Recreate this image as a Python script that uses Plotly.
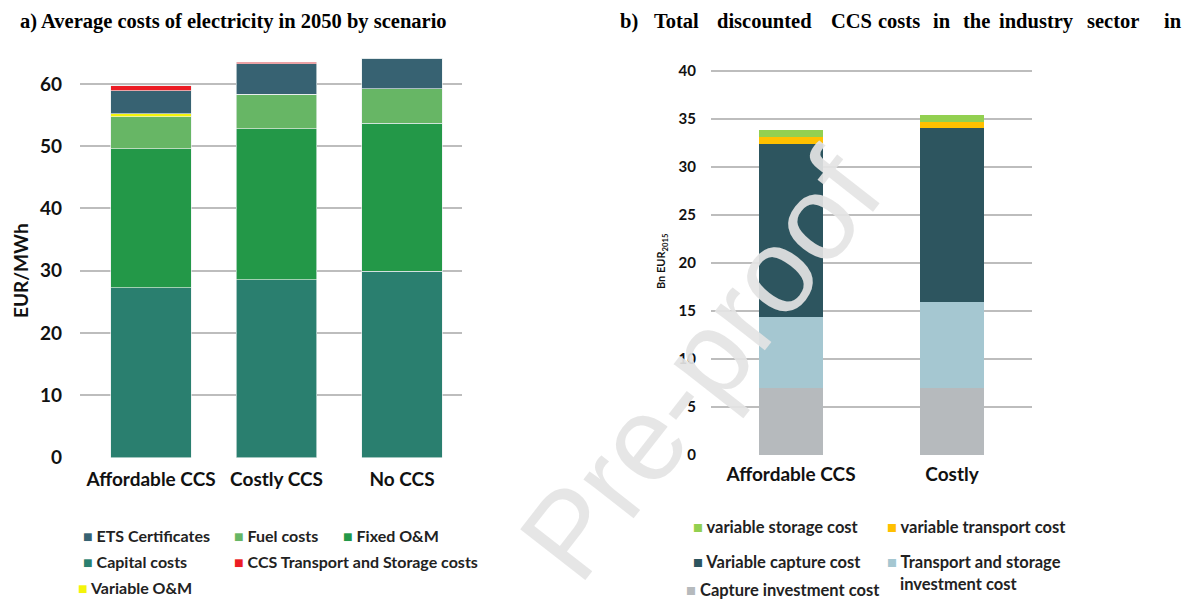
import plotly.graph_objects as go

# ---------------- data ----------------
scen_a = ["Affordable CCS", "Costly CCS", "No CCS"]
capital_costs = [27.3, 28.6, 29.9]
fixed_om = [22.3, 24.2, 23.8]
fuel_costs = [5.15, 5.5, 5.5]
variable_om = [0.45, 0.0, 0.0]
ets_certificates = [3.7, 4.9, 4.9]
ccs_transport_storage = [0.8, 0.3, 0.0]

scen_b = ["Affordable CCS", "Costly"]
capture_investment = [6.95, 6.95]
ts_investment = [7.4, 8.95]
variable_capture = [18.05, 18.1]
variable_transport = [0.7, 0.7]
variable_storage = [0.7, 0.7]

left_ticks = [0, 10, 20, 30, 40, 50, 60]
right_ticks = [0, 5, 10, 15, 20, 25, 30, 35, 40]

# ---------------- styles ----------------
SANS = "Lato, 'Open Sans', sans-serif"
SERIF = "'Liberation Serif', 'Times New Roman', serif"
GRID = "#bdbdbd"
W, H, OFF = 1200, 600, 8  # page body margin offset


def px_x(px):
    return (px - OFF) / W


def px_y(py):
    return 1 - (py - OFF) / H


left_series = [
    ("Capital costs", capital_costs, "#2a7f6f"),
    ("Fixed O&M", fixed_om, "#239848"),
    ("Fuel costs", fuel_costs, "#67b665"),
    ("Variable O&M", variable_om, "#f4f40a"),
    ("ETS Certificates", ets_certificates, "#376272"),
    ("CCS Transport and Storage costs", ccs_transport_storage, "#ec1c24"),
]
right_series = [
    ("Capture investment cost", capture_investment, "#b6babd"),
    ("Transport and storage investment cost", ts_investment, "#a5c7d1"),
    ("Variable capture cost", variable_capture, "#2d555f"),
    ("variable transport cost", variable_transport, "#ffc000"),
    ("variable storage cost", variable_storage, "#92d050"),
]

fig = go.Figure()
for name, vals, col in left_series:
    fig.add_trace(go.Bar(x=scen_a, y=vals, name=name, marker_color=col,
                         marker_line=dict(color="rgba(235,240,240,0.8)", width=0.8),
                         width=0.64, xaxis="x", yaxis="y", showlegend=False))
for name, vals, col in right_series:
    fig.add_trace(go.Bar(x=scen_b, y=vals, name=name, marker_color=col,
                         marker_line=dict(width=0),
                         width=0.4, xaxis="x2", yaxis="y2", showlegend=False))

fig.update_layout(
    barmode="stack",
    width=W, height=H,
    margin=dict(l=0, r=0, t=0, b=0, autoexpand=False),
    paper_bgcolor="white", plot_bgcolor="white",
    font=dict(family=SANS, color="#111"),
    xaxis=dict(domain=[px_x(80), px_x(462)], range=[-0.566, 2.478], automargin=False,
               showgrid=False, showline=False, ticks="", ticklabelstandoff=8,
               tickfont=dict(family=SANS, size=19, weight="bold", color="#111")),
    yaxis=dict(domain=[px_y(457.7), px_y(49.6)], range=[0, 65.5], tickvals=left_ticks,
               automargin=False,
               showgrid=True, gridcolor=GRID, gridwidth=1.5, zeroline=False,
               showline=False, ticks="", ticklabelstandoff=17,
               tickfont=dict(family=SANS, size=19, weight="bold", color="#111")),
    xaxis2=dict(domain=[px_x(711), px_x(1032)], range=[-0.497, 1.497], automargin=False,
                showgrid=False, showline=False, ticks="", anchor="y2", ticklabelstandoff=6,
                tickfont=dict(family=SANS, size=19, weight="bold", color="#111")),
    yaxis2=dict(domain=[px_y(455), px_y(67.7)], range=[0, 40.3], tickvals=right_ticks,
                anchor="x2", automargin=False,
                showgrid=True, gridcolor=GRID, gridwidth=1.5, zeroline=False,
                showline=False, ticks="", ticklabelstandoff=14,
                tickfont=dict(family=SANS, size=15, weight="bold", color="#111"),
                title=dict(text="Bn EUR<sub>2015</sub>", standoff=10,
                           font=dict(family=SANS, size=11, weight="bold", color="#111"))),
)

ann = []
# Left y-axis title
ann.append(dict(text="EUR/MWh", x=px_x(20), y=px_y(271), xref="paper", yref="paper",
                xanchor="center", yanchor="middle", showarrow=False, textangle=-90,
                font=dict(family=SANS, size=19, weight="bold", color="#111")))
# Titles
TITLE_TOP = 8.5
ann.append(dict(text="<b>a) Average costs of electricity in 2050 by scenario</b>",
                x=px_x(19), y=px_y(TITLE_TOP), xref="paper", yref="paper",
                xanchor="left", yanchor="top", showarrow=False, borderpad=0,
                font=dict(family=SERIF, size=20.5, color="#000")))
title_b_words = [("b)", 619), ("Total", 653), ("discounted", 716), ("CCS", 830),
                 ("costs", 877), ("in", 932), ("the", 962), ("industry", 998),
                 ("sector", 1086), ("in", 1163)]
for w, px in title_b_words:
    ann.append(dict(text="<b>" + w + "</b>", x=px_x(px), y=px_y(TITLE_TOP),
                    xref="paper", yref="paper", xanchor="left", yanchor="top",
                    showarrow=False, borderpad=0,
                    font=dict(family=SERIF, size=20.5, color="#000")))

# Watermark
ann.append(dict(text="Pre-proof", x=px_x(700), y=px_y(365), xref="paper", yref="paper",
                showarrow=False, textangle=-52,
                font=dict(family="'Liberation Sans', Arial, sans-serif", size=120,
                          color="rgba(228,228,228,0.92)")))


# Legends
def legend_item(label, color, px, py, size):
    return dict(text='<span style="color:%s">■</span> %s' % (color, label),
                x=px_x(px), y=px_y(py), xref="paper", yref="paper",
                xanchor="left", yanchor="middle", showarrow=False, align="left",
                font=dict(family=SANS, size=size, weight="bold", color="#222"))


cols_a = {n: c for n, _, c in left_series}
left_leg = [("ETS Certificates", 81, 535), ("Fuel costs", 232, 535), ("Fixed O&M", 341, 535),
            ("Capital costs", 81, 561), ("CCS Transport and Storage costs", 232, 561),
            ("Variable O&M", 76, 587)]
for n, px, py in left_leg:
    ann.append(legend_item(n, cols_a[n], px, py, 16))

cols_b = {n: c for n, _, c in right_series}
right_leg = [("variable storage cost", 691, 527, None), ("variable transport cost", 885, 527, None),
             ("Variable capture cost", 691, 562, None),
             ("Transport and storage investment cost", 885, 562, "Transport and storage"),
             ("Capture investment cost", 684, 590, None)]
for n, px, py, lbl in right_leg:
    ann.append(legend_item(lbl or n, cols_b[n], px, py, 16.5))
ann.append(dict(text="investment cost", x=px_x(898), y=px_y(584), xref="paper",
                yref="paper", xanchor="left", yanchor="middle", showarrow=False,
                font=dict(family=SANS, size=16.5, weight="bold", color="#222")))

fig.update_layout(annotations=ann)
fig.write_html("out.html")
